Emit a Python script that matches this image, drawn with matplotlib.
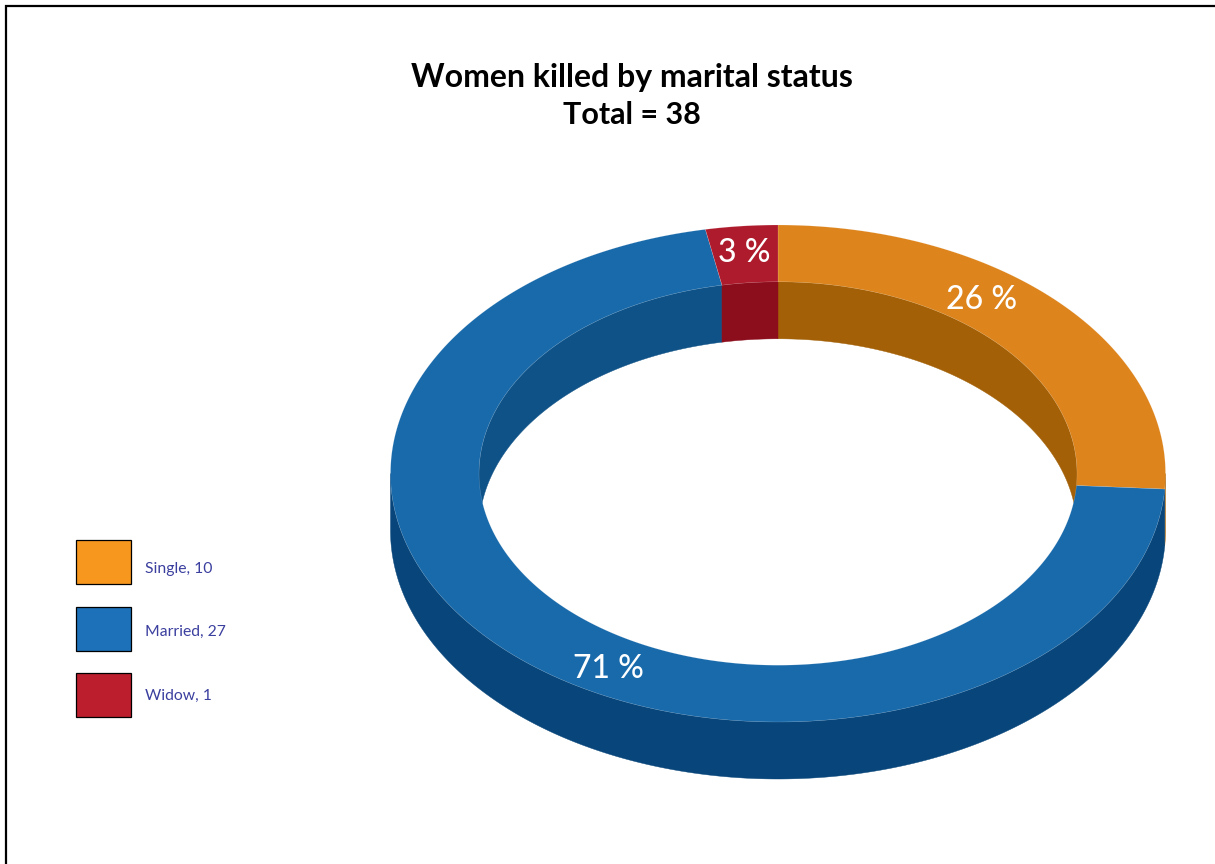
import numpy as np
import matplotlib
matplotlib.use('Agg')
import matplotlib.pyplot as plt
from matplotlib.patches import Rectangle

# values
status = ['Single', 'Married', 'Widow']
counts = [10, 27, 1]
percents = [26, 71, 3]
total = 38

top_colors = ['#DD841C', '#196AAB', '#AE1B2C']
inner_colors = ['#A36006', '#0F5287', '#8C0D1C']
outer_colors = ['#A36006', '#07457A', '#8C0D1C']
legend_colors = ['#F7971E', '#1C71B9', '#BC1E2D']
label_pos = [(982, 309), (608, 678), (744, 262)]
legend_y = [540, 607, 673]
legend_base = [573, 636, 700]

W, H = 1215, 864
CX, CY = 778, 473.5
RX, RY = 387.5, 248.5
IX, IY = 299, 191.7
DEPTH = 57

plt.rcParams['font.family'] = ['Lato', 'DejaVu Sans']

fig = plt.figure(figsize=(W / 100, H / 100), dpi=100)
ax = fig.add_axes([0, 0, 1, 1])
ax.set_xlim(0, W)
ax.set_ylim(H, 0)
ax.axis('off')


# angle is clockwise from the top of the ring, in degrees
def arc(a0, a1, rx, ry, dy=0):
    t = np.radians(np.linspace(a0, a1, max(int(abs(a1 - a0) * 3), 2)))
    return CX + rx * np.sin(t), CY - ry * np.cos(t) + dy


def wall(a0, a1, rx, ry, color):
    x1, y1 = arc(a0, a1, rx, ry)
    x2, y2 = arc(a1, a0, rx, ry, DEPTH)
    ax.fill(np.r_[x1, x2], np.r_[y1, y2], color=color, lw=0.3, zorder=1)


stops = np.cumsum([0] + percents) * 3.6
for i in range(len(percents)):
    a0, a1 = stops[i], stops[i + 1]
    # inner wall shows on the far side, outer wall on the near side
    if a0 < 90:
        wall(a0, min(a1, 90), IX, IY, inner_colors[i])
    if a1 > 270:
        wall(max(a0, 270), a1, IX, IY, inner_colors[i])
    if a1 > 90 and a0 < 270:
        wall(max(a0, 90), min(a1, 270), RX, RY, outer_colors[i])

for i in range(len(percents)):
    a0, a1 = stops[i], stops[i + 1]
    x1, y1 = arc(a0, a1, RX, RY)
    x2, y2 = arc(a1, a0, IX, IY)
    ax.fill(np.r_[x1, x2], np.r_[y1, y2], facecolor=top_colors[i],
            edgecolor=(1, 1, 1, 0.3), lw=0.3, zorder=2)
    ax.text(label_pos[i][0], label_pos[i][1], '%d %%' % percents[i], color='white',
            fontsize=23, fontweight='medium', ha='center', va='baseline', zorder=3)

ax.text(632, 87, 'Women killed by marital status', fontsize=23, fontweight='bold',
        color='black', ha='center', va='baseline')
ax.text(632, 124, 'Total = %d' % total, fontsize=22, fontweight='bold',
        color='black', ha='center', va='baseline')

for i in range(len(status)):
    ax.add_patch(Rectangle((76, legend_y[i]), 55, 44, facecolor=legend_colors[i],
                           edgecolor='black', lw=0.9))
    ax.text(145, legend_base[i], '%s, %d' % (status[i], counts[i]), color='#3B3F9E',
            fontsize=11.3, ha='left', va='baseline')

# frame, only its top and left sides are inside the picture
ax.plot([6, 6, W], [H, 6, 6], color='black', lw=1.6, solid_joinstyle='miter')

fig.savefig('out.png', dpi=100)
